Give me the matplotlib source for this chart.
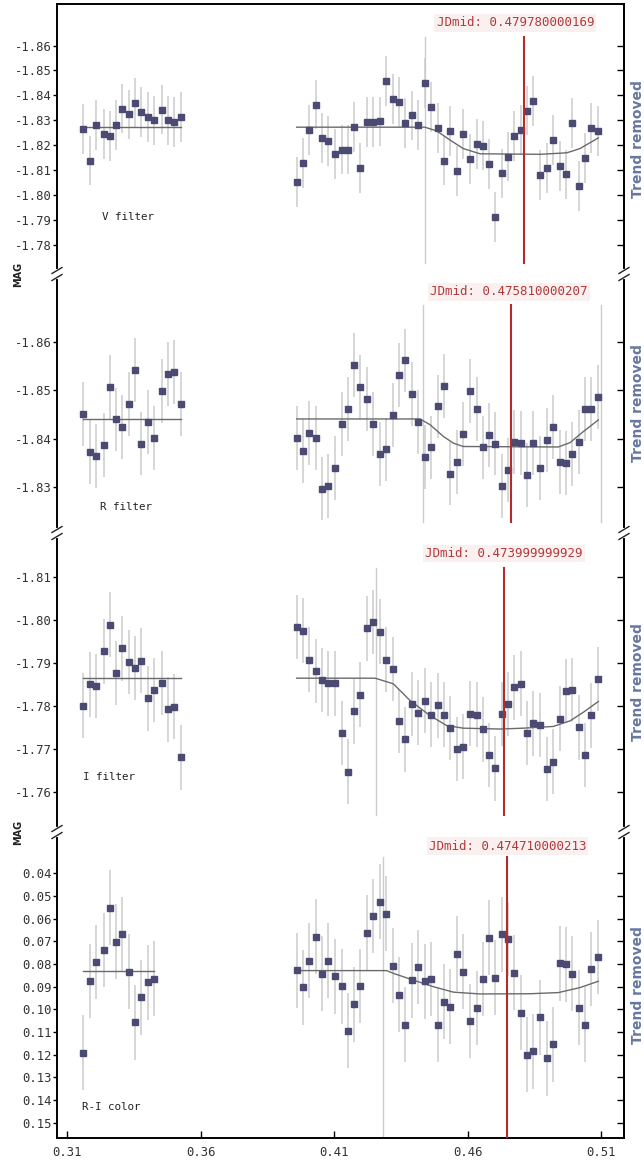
import numpy as np
import matplotlib
matplotlib.use("Agg")
import matplotlib.pyplot as plt
from matplotlib.lines import Line2D

plt.rcParams['axes.unicode_minus'] = False
plt.rcParams['font.family'] = ['DejaVu Sans Mono']

W, H = 644, 1164

# observation times
t_left = [0.3160, 0.3186, 0.3210, 0.3238, 0.3260, 0.3284, 0.3306, 0.3332,
          0.3355, 0.3378, 0.3405, 0.3427, 0.3455, 0.3477, 0.3500, 0.3527]
t_right = [0.3960, 0.3983, 0.4006, 0.4033, 0.4055, 0.4079, 0.4105, 0.4129,
           0.4151, 0.4174, 0.4199, 0.4222, 0.4246, 0.4272, 0.4295, 0.4319,
           0.4343, 0.4367, 0.4391, 0.4416, 0.4440, 0.4462, 0.4488, 0.4512,
           0.4536, 0.4561, 0.4583, 0.4611, 0.4634, 0.4657, 0.4679, 0.4704,
           0.4729, 0.4752, 0.4775, 0.4802, 0.4823, 0.4847, 0.4873, 0.4897,
           0.4920, 0.4945, 0.4968, 0.4991, 0.5018, 0.5041, 0.5064, 0.5090]

# V filter
v_left = [-1.8264, -1.8138, -1.8280, -1.8245, -1.8236, -1.8280, -1.8347, -1.8323,
          -1.8371, -1.8332, -1.8313, -1.8299, -1.8343, -1.8299, -1.8293, -1.8313]
v_right = [-1.8051, -1.8129, -1.8261, -1.8363, -1.8230, -1.8217, -1.8163, -1.8182,
           -1.8182, -1.8273, -1.8109, -1.8292, -1.8292, -1.8295, -1.8458, -1.8386,
           -1.8372, -1.8289, -1.8319, -1.8280, -1.8450, -1.8352, -1.8269, -1.8138,
           -1.8256, -1.8096, -1.8245, -1.8145, -1.8204, -1.8198, -1.8125, -1.7912,
           -1.8086, -1.8154, -1.8236, -1.8260, -1.8339, -1.8376, -1.8080, -1.8109,
           -1.8222, -1.8115, -1.8082, -1.8289, -1.8037, -1.8149, -1.8269, -1.8256]
v_err = 0.010
v_level = -1.8272
v_model_x = [0.3960, 0.4440, 0.4485, 0.4535, 0.4584, 0.4647, 0.4872, 0.4972, 0.5021, 0.5090]
v_model_y = [-1.8272, -1.8272, -1.8257, -1.8220, -1.8186, -1.8165, -1.8163, -1.8169, -1.8186, -1.8229]

# R filter
r_left = [-1.8452, -1.8372, -1.8365, -1.8387, -1.8507, -1.8440, -1.8425, -1.8472,
          -1.8542, -1.8390, -1.8435, -1.8402, -1.8499, -1.8534, -1.8539, -1.8472]
r_right = [-1.8402, -1.8374, -1.8412, -1.8402, -1.8297, -1.8302, -1.8340, -1.8430,
           -1.8462, -1.8552, -1.8507, -1.8482, -1.8430, -1.8369, -1.8378, -1.8450,
           -1.8532, -1.8562, -1.8492, -1.8435, -1.8363, -1.8382, -1.8467, -1.8510,
           -1.8328, -1.8352, -1.8410, -1.8499, -1.8462, -1.8382, -1.8408, -1.8390,
           -1.8303, -1.8335, -1.8394, -1.8392, -1.8325, -1.8392, -1.8340, -1.8397,
           -1.8425, -1.8352, -1.8350, -1.8368, -1.8394, -1.8462, -1.8462, -1.8487]
r_err = 0.0066
r_level = -1.8441
r_model_x = [0.3960, 0.4422, 0.4460, 0.4509, 0.4547, 0.4584, 0.4940, 0.4984, 0.5034, 0.5090]
r_model_y = [-1.8441, -1.8441, -1.8429, -1.8405, -1.8391, -1.8384, -1.8383, -1.8392, -1.8415, -1.8439]

# I filter
i_left = [-1.7800, -1.7850, -1.7846, -1.7926, -1.7988, -1.7876, -1.7933, -1.7902,
          -1.7888, -1.7905, -1.7817, -1.7837, -1.7853, -1.7792, -1.7798, -1.7680]
i_right = [-1.7983, -1.7974, -1.7907, -1.7881, -1.7860, -1.7852, -1.7852, -1.7737,
           -1.7647, -1.7787, -1.7826, -1.7980, -1.7994, -1.7972, -1.7907, -1.7885,
           -1.7765, -1.7722, -1.7804, -1.7784, -1.7812, -1.7779, -1.7801, -1.7779,
           -1.7748, -1.7700, -1.7705, -1.7782, -1.7779, -1.7745, -1.7686, -1.7655,
           -1.7781, -1.7804, -1.7843, -1.7851, -1.7737, -1.7759, -1.7755, -1.7653,
           -1.7670, -1.7770, -1.7834, -1.7837, -1.7750, -1.7686, -1.7778, -1.7862]
i_err = 0.0075
i_level = -1.7864
i_model_x = [0.3960, 0.4254, 0.4322, 0.4385, 0.4460, 0.4522, 0.4584, 0.4722, 0.4809,
             0.4921, 0.4984, 0.5034, 0.5090]
i_model_y = [-1.7864, -1.7864, -1.7851, -1.7812, -1.7777, -1.7754, -1.7748, -1.7746,
             -1.7748, -1.7752, -1.7765, -1.7785, -1.7810]

# R-I color
ri_left = [0.1191, 0.0875, 0.0791, 0.0738, 0.0551, 0.0701, 0.0669, 0.0834,
           0.1057, 0.0946, 0.0881, 0.0865]
ri_right = [0.0828, 0.0903, 0.0785, 0.0679, 0.0843, 0.0785, 0.0854, 0.0899,
            0.1094, 0.0978, 0.0897, 0.0662, 0.0588, 0.0525, 0.0578, 0.0807,
            0.0935, 0.1068, 0.0871, 0.0813, 0.0876, 0.0866, 0.1068, 0.0966,
            0.0988, 0.0754, 0.0834, 0.1051, 0.0994, 0.0866, 0.0684, 0.0860,
            0.0668, 0.0690, 0.0838, 0.1015, 0.1200, 0.1185, 0.1035, 0.1216,
            0.1153, 0.0796, 0.0801, 0.0843, 0.0993, 0.1068, 0.0822, 0.0769]
ri_err = 0.0165
ri_level = 0.0829
ri_model_x = [0.3960, 0.4297, 0.4322, 0.4397, 0.4472, 0.4547, 0.4647, 0.4834, 0.4940, 0.5021, 0.5090]
ri_model_y = [0.0829, 0.0829, 0.0841, 0.0871, 0.0900, 0.0924, 0.0932, 0.0931, 0.0926, 0.0904, 0.0876]

# mid-time labels and markers
jd_labels = ["JDmid: 0.479780000169", "JDmid: 0.475810000207",
             "JDmid: 0.473999999929", "JDmid: 0.474710000213"]
jd_label_x = [0.4779, 0.4755, 0.4737, 0.4750]
jd_label_y = [-1.8691, -1.8704, -1.8153, 0.0280]
jd_line_x = [0.4813, 0.4762, 0.4736, 0.4748]
window_x = [[0.4440], [0.4435, 0.5100], [0.4257], [0.4285]]
line_top = [-1.8635, -1.8677, -1.8120, 0.0328]
line_bot = [-1.7727, -1.8228, -1.7547, 0.1567]

names = ["V filter", "R filter", "I filter", "R-I color"]
name_x = [0.3231, 0.3224, 0.3160, 0.3156]
name_y = [-1.7912, -1.8259, -1.7635, 0.1432]

yticks = [[-1.86, -1.85, -1.84, -1.83, -1.82, -1.81, -1.80, -1.79, -1.78],
          [-1.86, -1.85, -1.84, -1.83],
          [-1.81, -1.80, -1.79, -1.78, -1.77, -1.76],
          [0.04, 0.05, 0.06, 0.07, 0.08, 0.09, 0.10, 0.11, 0.12, 0.13, 0.14, 0.15]]
ylims = [(-1.7682, -1.8767), (-1.8205, -1.8741), (-1.7507, -1.8201), (0.1567, 0.0218)]
xticks = [0.31, 0.36, 0.41, 0.46, 0.51]

lefts = [v_left, r_left, i_left, ri_left]
rights = [v_right, r_right, i_right, ri_right]
errs = [v_err, r_err, i_err, ri_err]
levels = [v_level, r_level, i_level, ri_level]
models = [(v_model_x, v_model_y), (r_model_x, r_model_y),
          (i_model_x, i_model_y), (ri_model_x, ri_model_y)]

# panel edges in pixels
edges = [4, 274, 533, 832, 1138]
x0, x1 = 57, 624

c_mark = '#4a4a72'
c_err = '#d6d6d6'
c_model = '#6a6a6a'
c_red = '#b22c2c'
c_win = '#cccccc'

fig = plt.figure(figsize=(W / 100, H / 100), dpi=100)
axes = []
for k in range(4):
    top, bot = edges[k], edges[k + 1]
    ax = fig.add_axes([x0 / W, 1 - bot / H, (x1 - x0) / W, (bot - top) / H])
    axes.append(ax)
    ax.set_xlim(0.30625, 0.5186)
    ax.set_ylim(*ylims[k])

    tl = t_left[:len(lefts[k])]
    for tt, yy in ((tl, lefts[k]), (t_right, rights[k])):
        ax.errorbar(tt, yy, yerr=errs[k], fmt='none', ecolor=c_err,
                    elinewidth=1.4, capsize=0, zorder=1)
    ax.plot([tl[0], tl[-1]], [levels[k], levels[k]], color=c_model, lw=1.0, zorder=2)
    ax.plot(models[k][0], models[k][1], color=c_model, lw=1.0, zorder=2)
    ax.plot(tl, lefts[k], 's', ms=4.2, color=c_mark, zorder=3)
    ax.plot(t_right, rights[k], 's', ms=4.2, color=c_mark, zorder=3)

    for wx in window_x[k]:
        ax.plot([wx, wx], [line_top[k], line_bot[k]], color=c_win, lw=1.0, zorder=1.5)
    ax.plot([jd_line_x[k]] * 2, [line_top[k], line_bot[k]], color=c_red, lw=1.5, zorder=4)
    ax.text(jd_label_x[k], jd_label_y[k], jd_labels[k], ha='center', va='center',
            fontsize=9, color='#b03a3a',
            bbox=dict(facecolor='#fbf0f0', edgecolor='none', pad=1.5))
    ax.text(name_x[k], name_y[k], names[k], ha='left', va='center',
            fontsize=7.8, color='#222222')

    ax.set_yticks(yticks[k])
    ax.set_yticklabels(['%.2f' % v for v in yticks[k]])
    ax.tick_params(axis='y', direction='out', length=3, width=1, pad=1,
                   labelsize=8.8, labelcolor='#333333')
    sec = ax.secondary_yaxis('right')
    sec.set_yticks(yticks[k])
    sec.tick_params(direction='in', length=5, width=1, labelright=False)
    sec.spines['right'].set_linewidth(1.4)

    for s in ax.spines.values():
        s.set_linewidth(1.4)
    if k > 0:
        ax.spines['top'].set_visible(False)
    if k < 3:
        ax.spines['bottom'].set_visible(False)
        ax.set_xticks([])
    else:
        ax.set_xticks(xticks)
        ax.set_xticklabels(['%.2f' % v for v in xticks])
        ax.tick_params(axis='x', direction='in', length=5, width=1, pad=6,
                       labelsize=8.8, labelcolor='#333333')

    fig.text(638.5 / W, 1 - (top + bot) / 2 / H, 'Trend removed', rotation=90,
             ha='center', va='center', fontsize=10, fontweight='bold',
             color='#6677a0', family='DejaVu Sans')


def fx(px):
    return px / W


def fy(py):
    return 1 - py / H


# axis break marks on both side spines
for yb in edges[1:4]:
    for xs in (x0, x1):
        fig.add_artist(Line2D([fx(xs), fx(xs)], [fy(yb - 3), fy(yb + 3)],
                              color='white', lw=3, zorder=20))
        for dy in (-3.5, 3.5):
            fig.add_artist(Line2D([fx(xs - 5), fx(xs + 5)],
                                  [fy(yb + dy + 3), fy(yb + dy - 3)],
                                  color='#222222', lw=1.0, zorder=21))

for yb in (edges[1], edges[3]):
    fig.text(fx(18), fy(yb), 'MAG', rotation=90, ha='center', va='center',
             fontsize=7, fontweight='bold', color='#222222', family='DejaVu Sans')

fig.savefig('out.png', dpi=100)
